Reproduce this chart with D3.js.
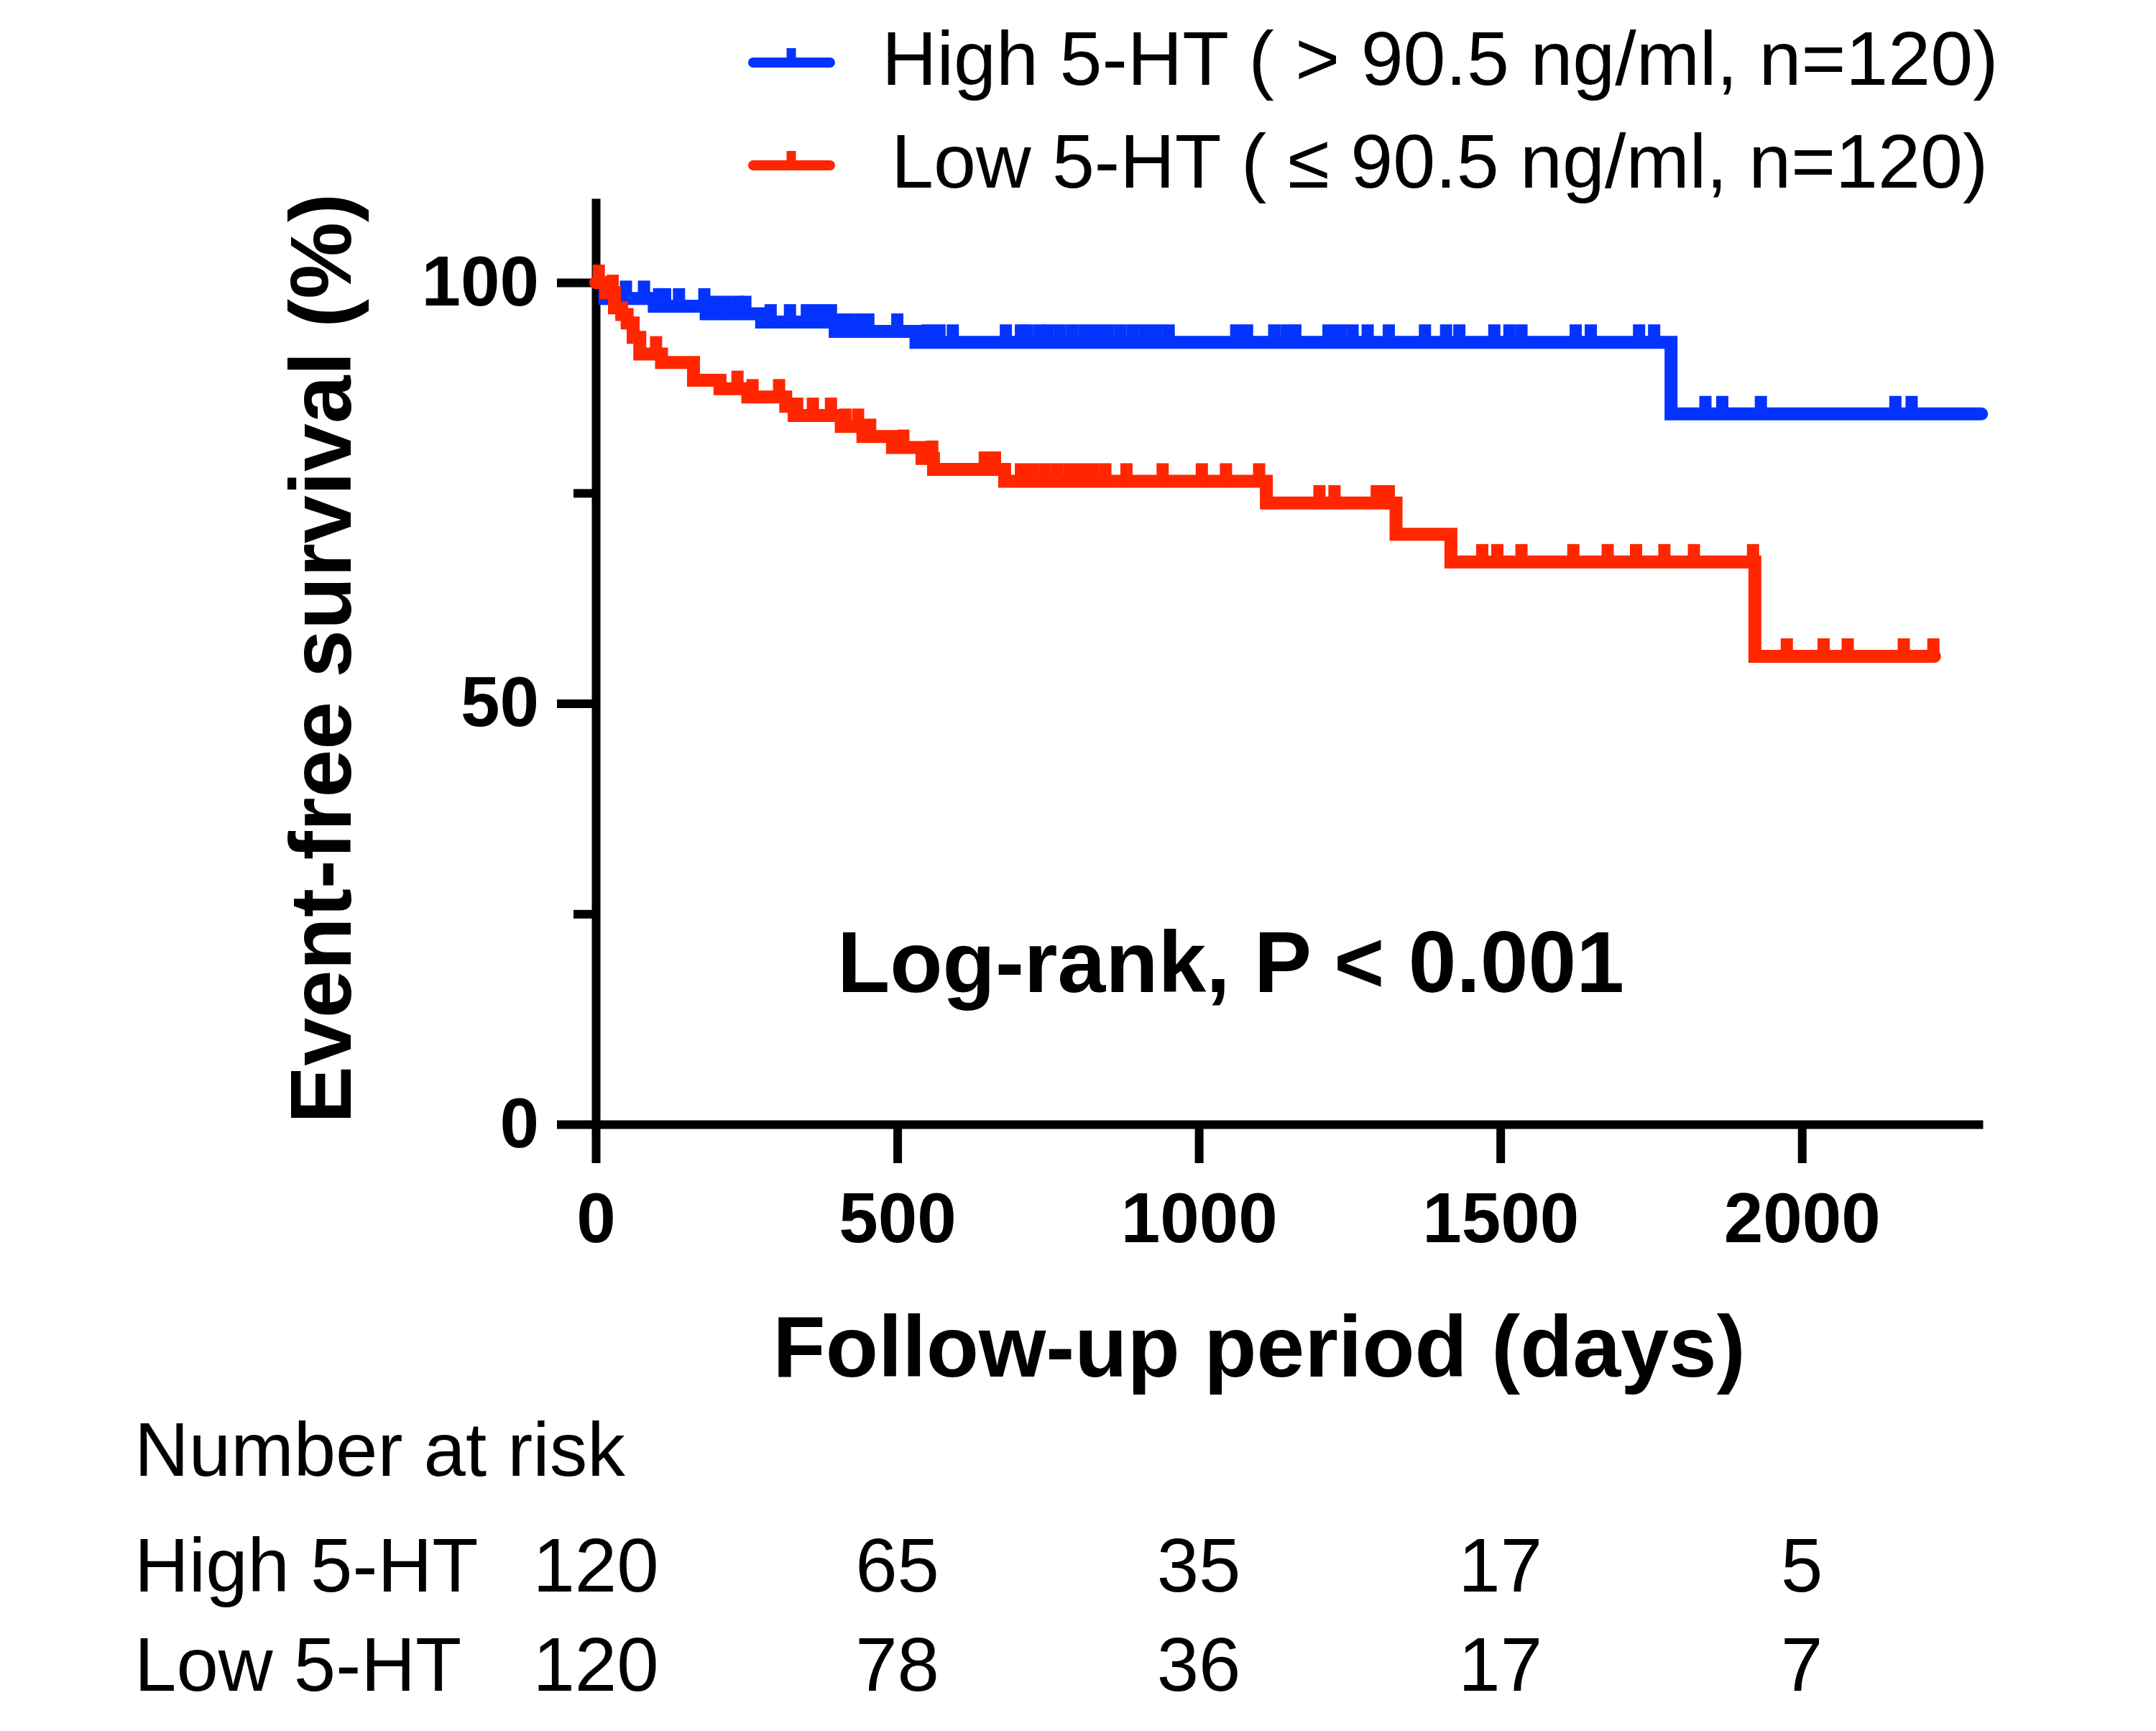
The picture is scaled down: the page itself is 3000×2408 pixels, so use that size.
<!DOCTYPE html>
<html>
<head>
<meta charset="utf-8">
<script src="https://cdn.jsdelivr.net/npm/d3@7"></script>
<style>
  body { margin: 0; background: #fff; }
  svg { font-family: "Liberation Sans", Arial, sans-serif; }
</style>
</head>
<body>
<svg id="km" width="3000" height="2408"></svg>
<script>
// Kaplan-Meier steps (time in days, survival in %)
const highTimes = [0, 15, 97, 183, 275, 397, 531, 1783];
const highSurv = [100, 98.1, 97.2, 96.3, 95.3, 94.2, 92.9, 84.4];
const highEnd = 2298;
const highCensor = [25, 50, 80, 105, 115, 138, 180, 195, 215, 235, 248, 290, 322, 350, 370, 390, 408, 420, 440, 452,
    500, 550, 570, 592, 680, 705, 715, 735, 750, 770, 790, 810, 830, 850, 870, 890, 910, 930, 950,
    1062, 1080, 1125, 1145, 1160, 1215, 1235, 1255, 1280, 1315, 1375, 1410, 1432, 1490, 1515, 1535,
    1625, 1650, 1730, 1755, 1840, 1868, 1932, 2155, 2182];

const lowTimes = [0, 17, 31, 43, 52, 62, 73, 109, 162, 206, 252, 315, 329, 407, 443, 492, 541, 560, 678, 1112, 1327, 1418, 1922];
const lowSurv = [100, 98.8, 97.0, 96.2, 95.2, 93.5, 91.5, 90.5, 88.4, 87.4, 86.4, 85.3, 84.2, 82.9, 81.7, 80.4, 79.1, 77.8, 76.4, 73.8, 70.1, 66.8, 55.6];
const lowEnd = 2220;
const lowCensor = [5, 28, 100, 235, 260, 304, 334, 360, 390, 414, 435, 455, 510, 558, 645, 662,
    705, 725, 745, 765, 785, 805, 825, 845, 880, 940, 1005, 1045, 1100, 1200, 1225, 1295, 1315,
    1470, 1495, 1535, 1621, 1678, 1725, 1772, 1821, 1919, 1975, 2036, 2076, 2169, 2218];

const xTicks = [0, 500, 1000, 1500, 2000];
const yMajor = [0, 50, 100];
const yMinor = [25, 75];

const legendLabels = ["High 5-HT ( > 90.5 ng/ml, n=120)", "Low 5-HT ( \u2264 90.5 ng/ml, n=120)"];
const riskGroups = ["High 5-HT", "Low 5-HT"];
const riskTimes = [0, 500, 1000, 1500, 2000];
const riskHigh = [120, 65, 35, 17, 5];
const riskLow = [120, 78, 36, 17, 7];

const blue = "#0433FF", red = "#FF2600";

const svg = d3.select("#km");

const x = d3.scaleLinear().domain([0, 2300]).range([829, 2759]);
const y = d3.scaleLinear().domain([0, 110]).range([1564, 276]);

// axes
const xAxis = svg.append("g")
    .attr("transform", "translate(0," + y(0) + ")")
    .call(d3.axisBottom(x).tickValues(xTicks).tickFormat(d3.format("d"))
        .tickSize(54).tickSizeOuter(0).tickPadding(40));

const yAxis = svg.append("g")
    .attr("transform", "translate(" + x(0) + ",0)")
    .call(d3.axisLeft(y).tickValues(yMajor).tickFormat(d3.format("d"))
        .tickSize(54).tickSizeOuter(0).tickPadding(25));

const yMinorAxis = svg.append("g")
    .attr("transform", "translate(" + x(0) + ",0)")
    .call(d3.axisLeft(y).tickValues(yMinor).tickSize(31).tickFormat(""));
yMinorAxis.select(".domain").remove();

[xAxis, yAxis, yMinorAxis].forEach(function (g) {
    g.selectAll("path, line").attr("stroke", "#000").attr("stroke-width", 12);
    g.selectAll("text")
        .attr("fill", "#000")
        .style("font-size", "98px")
        .style("font-weight", "bold")
        .style("font-family", "'Liberation Sans', Arial, sans-serif");
});

// axis titles
svg.append("text")
    .attr("transform", "translate(488," + 916 + ") rotate(-90)")
    .attr("text-anchor", "middle")
    .style("font-size", "120px")
    .style("font-weight", "bold")
    .text("Event-free survival (%)");

svg.append("text")
    .attr("x", 1752)
    .attr("y", 1915)
    .attr("text-anchor", "middle")
    .style("font-size", "120px")
    .style("font-weight", "bold")
    .text("Follow-up period (days)");

svg.append("text")
    .attr("x", 1165)
    .attr("y", 1380)
    .style("font-size", "120px")
    .style("font-weight", "bold")
    .text("Log-rank, P < 0.001");

// survival curves
const line = d3.line()
    .x(d => x(d[0]))
    .y(d => y(d[1]))
    .curve(d3.curveStepAfter);

function steps(times, surv, end) {
    const pts = times.map((t, i) => [t, surv[i]]);
    pts.push([end, surv[surv.length - 1]]);
    return pts;
}

function survAt(times, surv, t) {
    return surv[d3.bisectRight(times, t) - 1];
}

const groups = [
    {times: highTimes, surv: highSurv, end: highEnd, censor: highCensor, color: blue},
    {times: lowTimes, surv: lowSurv, end: lowEnd, censor: lowCensor, color: red}
];

groups.forEach(function (g) {
    const grp = svg.append("g");
    grp.append("path")
        .datum(steps(g.times, g.surv, g.end))
        .attr("d", line)
        .attr("fill", "none")
        .attr("stroke", g.color)
        .attr("stroke-width", 18)
        .attr("stroke-linecap", "round")
        .attr("stroke-linejoin", "miter");

    // censor marks
    grp.selectAll("line.cens")
        .data(g.censor)
        .enter().append("line")
        .attr("class", "cens")
        .attr("x1", d => x(d))
        .attr("x2", d => x(d))
        .attr("y1", d => y(survAt(g.times, g.surv, d)))
        .attr("y2", d => y(survAt(g.times, g.surv, d)) - 25)
        .attr("stroke", g.color)
        .attr("stroke-width", 17);
});

// legend
const legend = svg.append("g").attr("class", "legend");
const legendRows = legend.selectAll("g")
    .data(legendLabels)
    .enter().append("g")
    .attr("transform", (d, i) => "translate(0," + (i === 0 ? 87 : 230) + ")");

legendRows.append("line")
    .attr("x1", 1048).attr("x2", 1155)
    .attr("y1", 0).attr("y2", 0)
    .attr("stroke", (d, i) => i === 0 ? blue : red)
    .attr("stroke-width", 14)
    .attr("stroke-linecap", "round");

legendRows.append("line")
    .attr("x1", 1101).attr("x2", 1101)
    .attr("y1", 0).attr("y2", -20)
    .attr("stroke", (d, i) => i === 0 ? blue : red)
    .attr("stroke-width", 13);

legendRows.append("text")
    .attr("x", (d, i) => i === 0 ? 1227 : 1240)
    .attr("y", 31)
    .style("font-size", "106px")
    .text(d => d);

// number at risk table
svg.append("text")
    .attr("x", 187)
    .attr("y", 2053)
    .style("font-size", "105px")
    .text("Number at risk");

const riskRows = [riskHigh, riskLow];
riskRows.forEach(function (vals, r) {
    const yy = r === 0 ? 2214 : 2352;
    svg.append("text")
        .attr("x", 187)
        .attr("y", yy)
        .style("font-size", "105px")
        .text(riskGroups[r]);
    svg.selectAll("text.risk" + r)
        .data(vals)
        .enter().append("text")
        .attr("class", "risk" + r)
        .attr("x", (d, i) => x(riskTimes[i]))
        .attr("y", yy)
        .attr("text-anchor", "middle")
        .style("font-size", "105px")
        .text(d => d);
});
</script>
</body>
</html>
